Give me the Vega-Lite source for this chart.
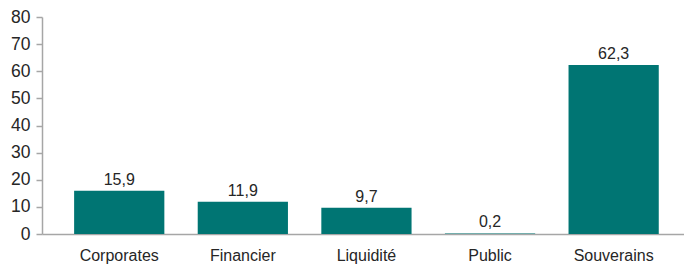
{
  "$schema": "https://vega.github.io/schema/vega-lite/v6.json",
  "autosize": {"type": "none"},
  "width": 642,
  "height": 217,
  "padding": {"left": 42, "top": 17, "right": 0, "bottom": 32},
  "background": "white",
  "config": {"view": {"stroke": null}, "font": "Liberation Sans"},
  "data": {"values": [
    {"cat": "Corporates", "v": 15.9, "lbl": "15,9"},
    {"cat": "Financier", "v": 11.9, "lbl": "11,9"},
    {"cat": "Liquidité", "v": 9.7, "lbl": "9,7"},
    {"cat": "Public", "v": 0.2, "lbl": "0,2"},
    {"cat": "Souverains", "v": 62.3, "lbl": "62,3"}
  ]},
  "encoding": {
    "x": {"field": "cat", "type": "nominal", "sort": null,
      "scale": {"paddingInner": 0.27, "paddingOuter": 0.232, "align": 0.56},
      "axis": {"title": null, "labelAngle": 0, "ticks": false, "domainColor": "#a6a6a6", "domainWidth": 1.5,
        "labelFontSize": 16, "labelColor": "#262626", "labelPadding": 13, "labelFont": "Liberation Sans"}},
    "y": {"field": "v", "type": "quantitative",
      "scale": {"domain": [0, 80], "nice": false},
      "axis": {"title": null, "grid": false, "values": [0,10,20,30,40,50,60,70,80], "tickSize": 6, "tickColor": "#a6a6a6",
        "domainColor": "#a6a6a6", "domainWidth": 1.5, "tickWidth": 1.5, "labelFontSize": 17.5, "labelColor": "#262626", "labelPadding": 6, "labelFont": "Liberation Sans"}}
  },
  "layer": [
    {"mark": {"type": "bar", "color": "#007573"}},
    {"mark": {"type": "text", "baseline": "bottom", "dy": -3, "fontSize": 16, "color": "#262626", "font": "Liberation Sans"},
     "encoding": {"text": {"field": "lbl"}}}
  ]
}
